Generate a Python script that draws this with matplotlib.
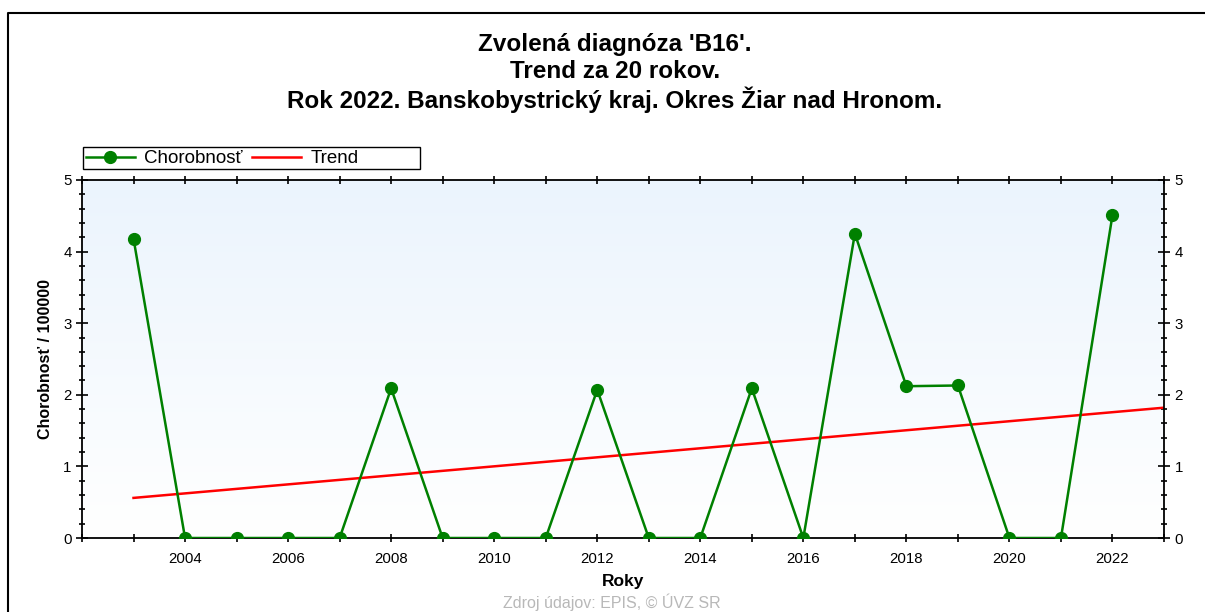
import numpy as np
import matplotlib.pyplot as plt
from matplotlib.ticker import MultipleLocator, FuncFormatter
from matplotlib.lines import Line2D
from matplotlib.patches import Rectangle

plt.rcParams['font.family'] = ['Liberation Sans', 'DejaVu Sans']

# data
years = [2003, 2004, 2005, 2006, 2007, 2008, 2009, 2010, 2011, 2012, 2013,
         2014, 2015, 2016, 2017, 2018, 2019, 2020, 2021, 2022]
chorobnost = [4.18, 0, 0, 0, 0, 2.09, 0, 0, 0, 2.07, 0,
              0, 2.09, 0, 4.25, 2.12, 2.13, 0, 0, 4.51]
trend_years = [2003, 2023]
trend_vals = [0.56, 1.82]

title_lines = ["Zvolená diagnóza 'B16'.",
               "Trend za 20 rokov.",
               "Rok 2022. Banskobystrický kraj. Okres Žiar nad Hronom."]

W, H = 1205, 612
fig = plt.figure(figsize=(W / 100, H / 100), dpi=100)
ax = fig.add_axes([82 / W, (H - 538) / H, (1164 - 82) / W, (538 - 180) / H])

# light blue gradient background
grad = np.linspace(0, 1, 256).reshape(-1, 1)
top = np.array([235, 244, 253]) / 255
bot = np.array([255, 255, 255]) / 255
img = top + (bot - top) * grad[..., None]
ax.imshow(img, extent=[2002, 2023, 0, 5], aspect='auto', zorder=0, origin='upper')

ax.plot(trend_years, trend_vals, color='#ff0000', lw=1.8, zorder=2)
ax.plot(years, chorobnost, color='#008000', lw=1.8, marker='o', ms=8.5, zorder=3)

ax.set_xlim(2002, 2023)
ax.set_ylim(0, 5)

ax.xaxis.set_major_locator(MultipleLocator(1))
ax.xaxis.set_major_formatter(FuncFormatter(
    lambda v, p: str(int(v)) if int(v) % 2 == 0 and 2004 <= v <= 2022 else ''))
ax.yaxis.set_major_locator(MultipleLocator(1))
ax.yaxis.set_minor_locator(MultipleLocator(0.2))

ax.tick_params(axis='x', which='major', direction='inout', length=6, width=1.2,
               top=True, labelsize=10.8, pad=7)
ax.tick_params(axis='y', which='major', direction='inout', length=9, width=1.2,
               right=True, labelright=True, labelsize=10.8, pad=3)
ax.tick_params(axis='y', which='minor', direction='inout', length=5, width=1.2,
               right=True)
for s in ax.spines.values():
    s.set_linewidth(1.3)

ax.set_xlabel('Roky', fontsize=12.5, fontweight='bold', labelpad=6)
ax.set_ylabel("Chorobnosť / 100000", fontsize=11.5, fontweight='bold', labelpad=7)

handles = [Line2D([], [], color='#008000', lw=1.8, marker='o', ms=8.5),
           Line2D([], [], color='#ff0000', lw=1.8)]
leg = ax.legend(handles, ['Chorobnosť', 'Trend'], ncol=2, loc='lower left',
                bbox_to_anchor=(0.002, 1.03), borderaxespad=0, fontsize=13.5,
                frameon=False, borderpad=0.1, handlelength=2.6,
                columnspacing=0.5, handletextpad=0.5)

# legend box is wider than its contents in the reference
fig.add_artist(Rectangle((83 / W, 1 - 169 / H), (420 - 83) / W, 22 / H,
                         transform=fig.transFigure, fill=False,
                         edgecolor='black', lw=1.0))

for i, (t, yy) in enumerate(zip(title_lines, [45, 72, 100])):
    fig.text(615 / W, 1 - yy / H, t, ha='center', va='center',
             fontsize=17.5, fontweight='bold')

fig.text(612 / W, 1 - 602 / H, 'Zdroj údajov: EPIS, © ÚVZ SR', ha='center',
         va='center', fontsize=11.5, color='#b8b8b8')

# outer frame
fig.add_artist(Line2D([8 / W, 8 / W, 1], [0, 1 - 13 / H, 1 - 13 / H],
                      transform=fig.transFigure, color='black', lw=1.5))

fig.savefig('out.png', dpi=100)
